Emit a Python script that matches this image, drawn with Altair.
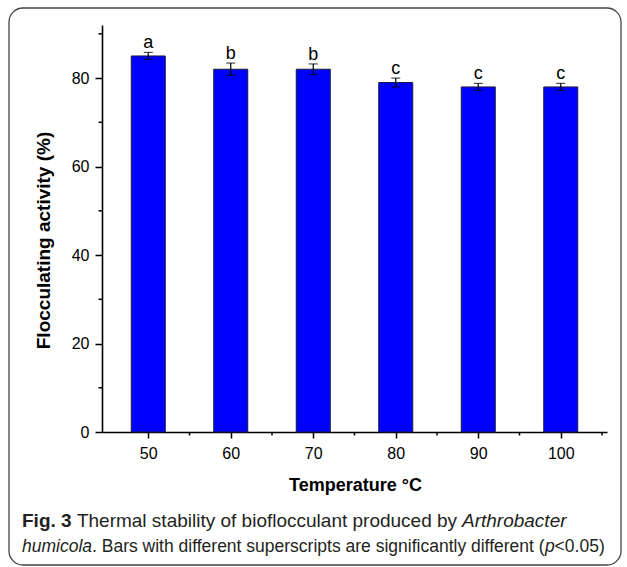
import altair as alt
import pandas as pd

# ---- data ----
temps = [50, 60, 70, 80, 90, 100]
activity = [85.0, 82.0, 82.0, 79.0, 78.0, 78.0]
errors = [0.8, 1.4, 1.2, 1.0, 0.8, 0.8]
letters = ["a", "b", "b", "c", "c", "c"]

y_major = [0, 20, 40, 60, 80]
y_minor = [10, 30, 50, 70, 90]
x_major = [50, 60, 70, 80, 90, 100]
x_minor = [55, 65, 75, 85, 95, 105]

df = pd.DataFrame({"temp": temps, "act": activity, "err": errors, "lab": letters})
df["lo"] = df["act"] - df["err"]
df["hi"] = df["act"] + df["err"]

W, H = 505, 407
FONT = "Liberation Sans"

xs = alt.Scale(domain=[45, 105], nice=False, zero=False)
ys = alt.Scale(domain=[0, 92], nice=False)

xaxis = alt.Axis(values=x_major, format="d", grid=False, tickSize=6, tickWidth=1.5,
                 tickColor="black", domainColor="black", domainWidth=1.6,
                 labelFont=FONT, labelFontSize=16, labelColor="black", labelPadding=7,
                 title="Temperature °C", titleFont=FONT, titleFontSize=18,
                 titleFontWeight="bold", titleColor="black",
                 titleX=253, titleY=53, titleBaseline="middle", titleAlign="center")
yaxis = alt.Axis(values=y_major, format="d", grid=False, tickSize=7, tickWidth=1.5,
                 tickColor="black", domainColor="black", domainWidth=1.6,
                 labelFont=FONT, labelFontSize=16, labelColor="black", labelPadding=6,
                 title="Flocculating activity (%)", titleFont=FONT, titleFontSize=19,
                 titleFontWeight="bold", titleColor="black",
                 titleX=-59, titleY=215, titleBaseline="middle", titleAlign="center",
                 titleAngle=-90)

X = lambda f: alt.X(f, scale=xs, axis=xaxis)
Y = lambda f: alt.Y(f, scale=ys, axis=yaxis)

base = alt.Chart(df)

bars = base.mark_bar(size=34, color="#0000FF", stroke="#1a1a40", strokeWidth=1).encode(
    x=X("temp:Q"), y=Y("act:Q"))

err_rule = base.mark_rule(color="black", strokeWidth=1.2).encode(
    x=X("temp:Q"), y=Y("lo:Q"), y2="hi:Q")
cap_lo = base.mark_tick(orient="horizontal", size=9, thickness=1.2, color="black").encode(
    x=X("temp:Q"), y=Y("lo:Q"))
cap_hi = base.mark_tick(orient="horizontal", size=9, thickness=1.2, color="black").encode(
    x=X("temp:Q"), y=Y("hi:Q"))

letters_layer = base.mark_text(baseline="alphabetic", dy=-4, fontSize=18, font=FONT,
                               color="black").encode(
    x=X("temp:Q"), y=Y("hi:Q"), text="lab:N")

ymin_df = pd.DataFrame({"v": y_minor})
xmin_df = pd.DataFrame({"v": x_minor})
y_minor_ticks = alt.Chart(ymin_df).mark_rule(color="black", strokeWidth=1.5).encode(
    y=Y("v:Q"), x=alt.value(0), x2=alt.value(-3.5))
x_minor_ticks = alt.Chart(xmin_df).mark_rule(color="black", strokeWidth=1.5).encode(
    x=X("v:Q"), y=alt.value(H), y2=alt.value(H + 3.5))

one = alt.Data(values=[{}])
frame = alt.Chart(one).mark_rect(fillOpacity=0, stroke="#444444", strokeWidth=1.3,
                                 cornerRadius=14).encode(
    x=alt.value(-93), x2=alt.value(519), y=alt.value(-17), y2=alt.value(540))


def seg(text, x, y, size, weight="normal", style="normal"):
    return alt.Chart(one).mark_text(align="left", baseline="alphabetic", font=FONT,
                                    fontSize=size, fontWeight=weight, fontStyle=style,
                                    color="#231f20").encode(
        x=alt.value(x - 102), y=alt.value(y - 25), text=alt.value(text))


cap = [
    seg("Fig. 3", 22, 526.5, 19, weight="bold"),
    seg("Thermal stability of bioflocculant produced by", 76.9, 526.5, 19),
    seg("Arthrobacter", 462.0, 526.5, 19, style="italic"),
    seg("humicola", 22, 551.5, 17.5, style="italic"),
    seg(". Bars with different superscripts are significantly different (", 92.0, 551.5, 17.5),
    seg("p", 544.9, 551.5, 17.5, style="italic"),
    seg("<0.05)", 554.6, 551.5, 17.5),
]

chart = alt.layer(
    frame, bars, err_rule, cap_lo, cap_hi, letters_layer, y_minor_ticks, x_minor_ticks, *cap
).properties(
    width=W, height=H,
    autosize=alt.AutoSizeParams(type="none"),
    padding={"left": 102, "top": 25, "right": 20, "bottom": 135},
    background="white",
).configure_view(stroke=None)

chart.save("out.html", embed_options={"renderer": "svg", "actions": False})
